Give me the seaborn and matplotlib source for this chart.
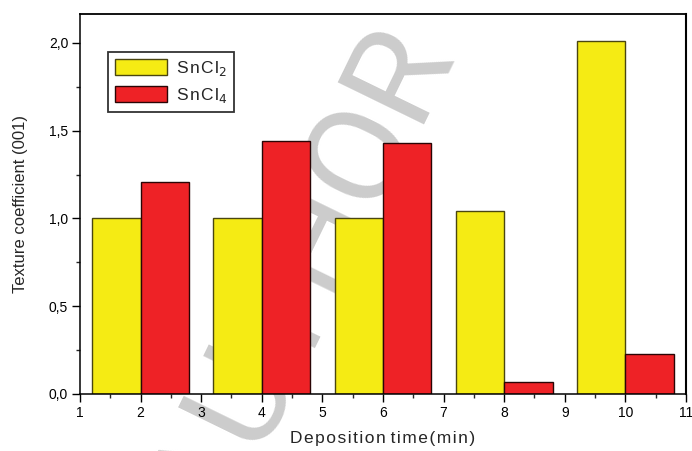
import matplotlib
matplotlib.use("Agg")
import matplotlib.pyplot as plt
from matplotlib.ticker import MultipleLocator, FuncFormatter
from matplotlib.patches import Patch
import seaborn as sns
import pandas as pd

# Texture coefficient of the (001) plane vs deposition time
times = [2, 4, 6, 8, 10]
sncl2 = [1.00, 1.00, 1.00, 1.04, 2.01]
sncl4 = [1.21, 1.44, 1.43, 0.07, 0.23]
precursors = ["SnCl$_2$", "SnCl$_4$"]
legend_labels = ["S\u200an\u200aC\u200al$_2$", "S\u200an\u200aC\u200al$_4$"]
bar_colors = ["#F5EB14", "#EE2226"]
edge_colors = ["#4a4610", "#2a0505"]

df = pd.DataFrame({
    "time": times * 2,
    "tc": sncl2 + sncl4,
    "precursor": [precursors[0]] * len(times) + [precursors[1]] * len(times),
})

sns.set_style("ticks")
plt.rcParams["font.family"] = ["Liberation Sans", "DejaVu Sans"]


def spaced(s):
    return "\u200a".join(s)


fig = plt.figure(figsize=(6.92, 4.51), dpi=100)
ax = fig.add_axes([0.1156, 0.1264, 0.8757, 0.8426])
ax.set_facecolor("none")

# faint diagonal watermark behind the bars
fig.text(0.442, 0.38, "AUTHOR", rotation=64, fontsize=98, color="#cccccc",
         family=["Roboto", "DejaVu Sans"], fontweight="normal",
         ha="center", va="center", zorder=-1)

sns.barplot(data=df, x="time", y="tc", hue="precursor", hue_order=precursors,
            palette=bar_colors, native_scale=True, width=0.8, dodge=True,
            saturation=1, legend=False, ax=ax, errorbar=None)

for cont, ec in zip(ax.containers, edge_colors):
    for bar in cont:
        bar.set_edgecolor(ec)
        bar.set_linewidth(1.0)

ax.set_xlim(1, 11)
ax.set_ylim(0, 2.165)
ax.xaxis.set_major_locator(MultipleLocator(1))
ax.xaxis.set_minor_locator(MultipleLocator(0.5))
ax.yaxis.set_major_locator(MultipleLocator(0.5))
ax.yaxis.set_minor_locator(MultipleLocator(0.25))
ax.yaxis.set_major_formatter(FuncFormatter(lambda v, p: f"{v:.1f}".replace(".", ",")))
ax.xaxis.set_major_formatter(FuncFormatter(lambda v, p: f"{int(round(v))}"))

ax.tick_params(which="major", direction="out", length=5.5, width=1.0,
               labelsize=10, colors="black", pad=3)
ax.tick_params(which="minor", direction="out", length=3, width=1.0)
ax.tick_params(top=False, right=False, which="both")

for side in ["left", "bottom", "top", "right"]:
    ax.spines[side].set_visible(True)
    ax.spines[side].set_color("black")
    ax.spines[side].set_linewidth(1.1)
ax.spines["top"].set_linewidth(1.3)
ax.spines["right"].set_linewidth(1.5)

ax.set_xlabel(spaced("Deposition") + " " + spaced("time(min)"), fontsize=12.5, labelpad=8)
ax.set_ylabel("Texture coefficient (001)", fontsize=12, labelpad=15)

handles = [Patch(facecolor=c, edgecolor=e, linewidth=1.0) for c, e in zip(bar_colors, edge_colors)]
leg = ax.legend(handles, legend_labels, loc="upper left", bbox_to_anchor=(0.046, 0.9),
                fancybox=False, frameon=True, edgecolor="black", fontsize=12.5,
                handlelength=3.0, handleheight=1.0, handletextpad=0.5,
                borderpad=0.4, labelspacing=0.45, borderaxespad=0)
leg.get_frame().set_linewidth(1.3)

fig.savefig("out.png", dpi=100)
